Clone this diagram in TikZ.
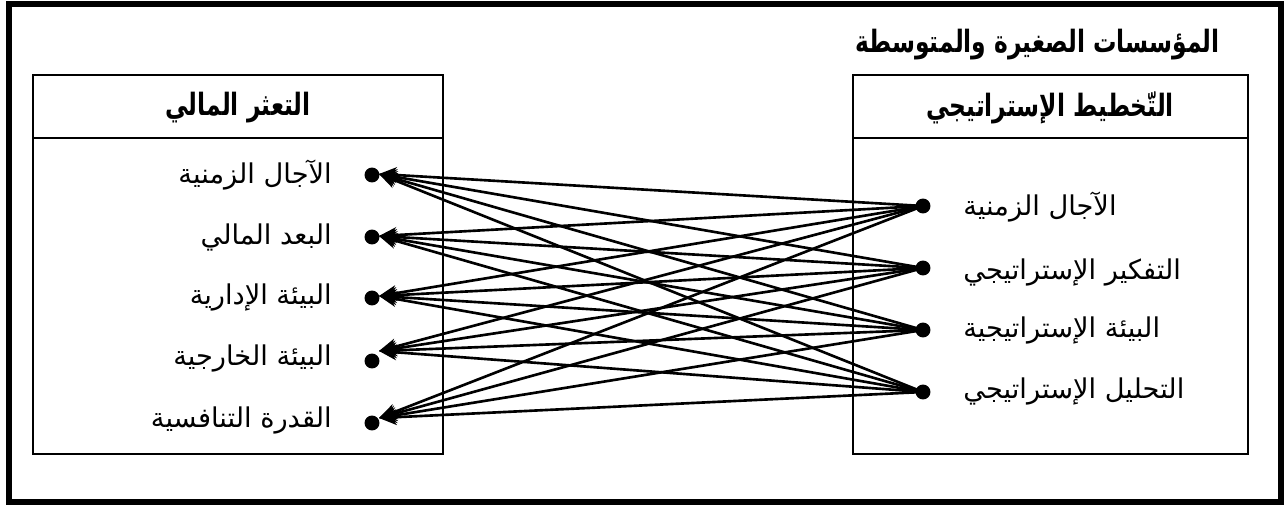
\documentclass[tikz,border=0pt]{standalone}
\usepackage{fontspec}
\newfontfamily\arabicfont[Script=Arabic]{DejaVu Sans}
\newfontfamily\arabicbold[Script=Arabic, FakeStretch=0.76]{DejaVu Sans Bold}
\TeXXeTstate=1
\usetikzlibrary{arrows.meta,positioning}

% right-to-left Arabic run
\newcommand{\artext}[1]{\beginR #1\endR}

\begin{document}
\begin{tikzpicture}[
  x=0.02cm, y=-0.02cm,
  frame/.style={draw, line width=1.1pt},
  outer/.style={draw, line width=3.4pt},
  head/.style={font=\arabicbold\fontsize{17.5}{20}\selectfont, inner sep=0pt},
  item/.style={font=\arabicfont\fontsize{15.5}{18}\selectfont, inner sep=0pt},
  dot/.style={circle, fill, inner sep=0pt, minimum size=8.5pt},
  link/.style={line width=1.5pt, -{Stealth[length=10pt, width=9pt]}}]
\useasboundingbox (0,0) rectangle (1285,507);
\draw[outer] (9,4) rectangle (1281,502);

% title
\node[head, anchor=east] (title) at (1220,45) {\artext{المؤسسات الصغيرة والمتوسطة}};

% left box
\draw[frame] (33,75) rectangle (443,454);
\draw[frame] (33,138) -- (443,138);
\node[head] (lhead) at (238,108) {\artext{التعثر المالي}};

% right box
\draw[frame] (853,75) rectangle (1248,454);
\draw[frame] (853,138) -- (1248,138);
\node[head] (rhead) at (1050,108) {\artext{التّخطيط الإستراتيجي}};

% left items
\node[item, anchor=east] (l1) at (332,175) {\artext{الآجال الزمنية}};
\node[item, anchor=east] (l2) at (332,237) {\artext{البعد المالي}};
\node[item, anchor=east] (l3) at (332,297) {\artext{البيئة الإدارية}};
\node[item, anchor=east] (l4) at (332,358) {\artext{البيئة الخارجية}};
\node[item, anchor=east] (l5) at (332,420) {\artext{القدرة التنافسية}};
\node[dot] (ld1) at (372,175) {};
\node[dot] (ld2) at (372,237) {};
\node[dot] (ld3) at (372,298) {};
\node[dot] (ld4) at (372,361) {};
\node[dot] (ld5) at (372,423) {};
\coordinate (t1) at (379,174);
\coordinate (t2) at (379,236);
\coordinate (t3) at (379,296);
\coordinate (t4) at (379,351);
\coordinate (t5) at (379,418);

% right items
\node[item, anchor=west] (r1) at (963,207) {\artext{الآجال الزمنية}};
\node[item, anchor=west] (r2) at (963,272) {\artext{التفكير الإستراتيجي}};
\node[item, anchor=west] (r3) at (963,330) {\artext{البيئة الإستراتيجية}};
\node[item, anchor=west] (r4) at (963,391) {\artext{التحليل الإستراتيجي}};
\node[dot] (rd1) at (923,206) {};
\node[dot] (rd2) at (923,268) {};
\node[dot] (rd3) at (923,330) {};
\node[dot] (rd4) at (923,392) {};

% every right item points to every left item
\foreach \r in {1,...,4}
  \foreach \l in {1,...,5}
    \draw[link] (rd\r.center) -- (t\l);
\end{tikzpicture}
\end{document}
